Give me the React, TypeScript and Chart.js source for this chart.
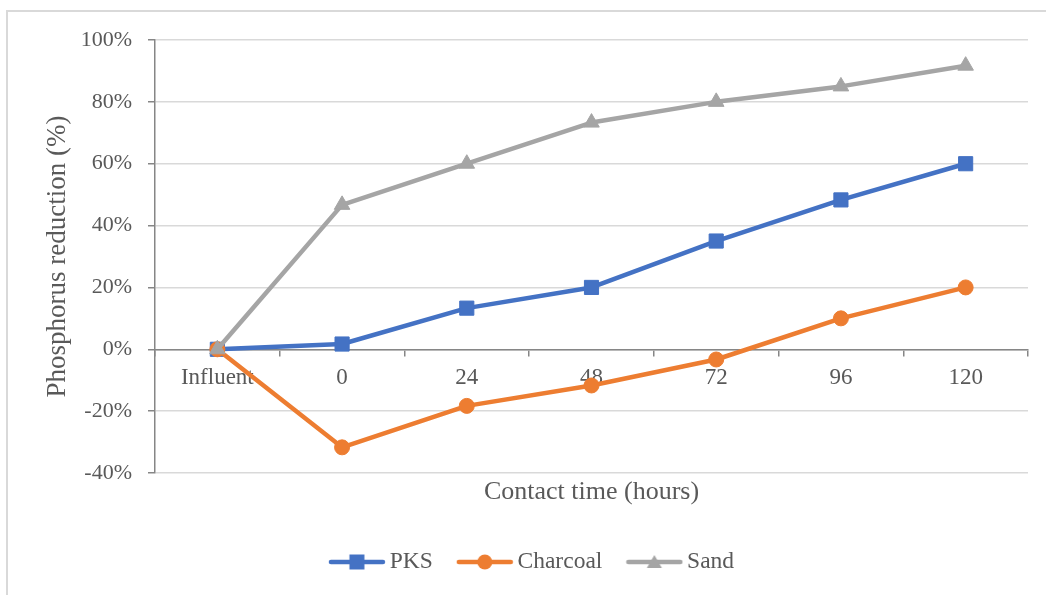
import { useEffect, useRef } from 'react';
import { Chart, registerables } from 'chart.js';

Chart.register(...registerables);

// Contact time categories and phosphorus reduction (%) per filter medium
const categories = ['Influent', '0', '24', '48', '72', '96', '120'];
const pksValues = [0, 1.7, 13.3, 20, 35, 48.3, 60];
const charcoalValues = [0, -31.7, -18.3, -11.7, -3.3, 10, 20];
const sandValues = [0, 46.7, 60, 73.3, 80, 85, 91.7];

const yMin = -40;
const yMax = 100;
const yStep = 20;

const seriesNames = ['PKS', 'Charcoal', 'Sand'];
const seriesColors = ['#4472C4', '#ED7D31', '#A5A5A5'];

const TEXT = '#595959';
const AXIS = '#868686';
const GRID = '#D9D9D9';
const FONT = "'Liberation Serif', 'Times New Roman', serif";

// Legend swatch: short line with the series marker in the middle
function legendSample(color: string, kind: string): HTMLCanvasElement {
  const c = document.createElement('canvas');
  c.width = 58;
  c.height = 22;
  const ctx = c.getContext('2d')!;
  ctx.strokeStyle = color;
  ctx.fillStyle = color;
  ctx.lineWidth = 4.5;
  ctx.lineCap = 'round';
  ctx.beginPath();
  ctx.moveTo(3, 11);
  ctx.lineTo(55, 11);
  ctx.stroke();
  ctx.beginPath();
  if (kind === 'rect') {
    ctx.rect(29 - 7.5, 11 - 7.5, 15, 15);
  } else if (kind === 'circle') {
    ctx.arc(29, 11, 7.5, 0, Math.PI * 2);
  } else {
    ctx.moveTo(29, 4);
    ctx.lineTo(36.5, 17);
    ctx.lineTo(21.5, 17);
    ctx.closePath();
  }
  ctx.fill();
  return c;
}

const frame = {
  id: 'frame',
  beforeDraw(chart: any) {
    const { ctx } = chart;
    ctx.save();
    ctx.strokeStyle = GRID;
    ctx.lineWidth = 2;
    ctx.beginPath();
    ctx.moveTo(7, 600);
    ctx.lineTo(7, 11);
    ctx.lineTo(1050, 11);
    ctx.stroke();
    ctx.restore();
  },
};

export default function App() {
  const ref = useRef<HTMLCanvasElement | null>(null);

  useEffect(() => {
    if (!ref.current) return;
    const styles = ['rect', 'circle', 'triangle'];
    const samples = seriesColors.map((c, i) => legendSample(c, styles[i]));
    const values = [pksValues, charcoalValues, sandValues];
    const radii = [10, 7.5, 9];

    const chart = new Chart(ref.current, {
      type: 'line',
      data: {
        labels: categories,
        datasets: seriesNames.map((name, i) => ({
          label: name,
          data: values[i],
          borderColor: seriesColors[i],
          backgroundColor: seriesColors[i],
          borderWidth: 4.5,
          borderJoinStyle: 'round',
          borderCapStyle: 'round',
          pointStyle: styles[i],
          pointRadius: radii[i],
          pointBorderWidth: 1,
          pointBackgroundColor: seriesColors[i],
          pointBorderColor: seriesColors[i],
          order: 3 - i,
          tension: 0,
        })),
      },
      options: {
        responsive: false,
        animation: false,
        layout: { padding: { top: 40, right: 18, bottom: 11.25, left: 42 } },
        plugins: {
          tooltip: { enabled: false },
          legend: {
            position: 'bottom',
            labels: {
              usePointStyle: true,
              pointStyleWidth: 42,
              padding: 31,
              color: TEXT,
              font: { family: FONT, size: 23.5 },
              generateLabels: (ch: any) =>
                ch.data.datasets.map((ds: any, i: number) => ({
                  text: ds.label,
                  pointStyle: samples[i],
                  fillStyle: seriesColors[i],
                  strokeStyle: seriesColors[i],
                  lineWidth: 0,
                  fontColor: TEXT,
                  hidden: false,
                  datasetIndex: i,
                })),
            },
          },
        },
        scales: {
          x: {
            type: 'category',
            position: { y: 0 },
            offset: true,
            grid: {
              offset: true,
              drawOnChartArea: false,
              drawTicks: true,
              tickLength: 6,
              tickColor: AXIS,
              lineWidth: 1.5,
            },
            border: { display: true, color: AXIS, width: 1.5 },
            ticks: {
              color: TEXT,
              padding: 9,
              maxRotation: 0,
              autoSkip: false,
              font: { family: FONT, size: 23 },
            },
          },
          xTitle: {
            type: 'category',
            position: 'bottom',
            grid: { display: false },
            border: { display: false },
            ticks: { display: false },
            title: {
              display: true,
              text: 'Contact time (hours)',
              color: TEXT,
              font: { family: FONT, size: 26 },
              padding: { top: 0, bottom: 11 },
            },
            afterFit: (s: any) => {
              s.height = 46.25;
            },
          },
          y: {
            min: yMin,
            max: yMax,
            ticks: {
              stepSize: yStep,
              color: TEXT,
              padding: 16,
              font: { family: FONT, size: 22 },
              callback: (v: any) => `${v}%`,
            },
            grid: {
              color: GRID,
              lineWidth: 1.5,
              tickColor: AXIS,
              tickLength: 7,
            },
            border: { display: true, color: AXIS, width: 1.5 },
            title: {
              display: true,
              text: 'Phosphorus reduction (%)',
              color: TEXT,
              font: { family: FONT, size: 27 },
              padding: { top: 0, bottom: 0 },
            },
            afterFit: (s: any) => {
              s.width = 113;
            },
          },
        },
      } as any,
      plugins: [frame],
    });
    return () => chart.destroy();
  }, []);

  return (
    <div style={{ position: 'absolute', left: 0, top: 0, width: 1046, height: 595, background: '#fff' }}>
      <canvas ref={ref} width={1046} height={595} />
    </div>
  );
}
